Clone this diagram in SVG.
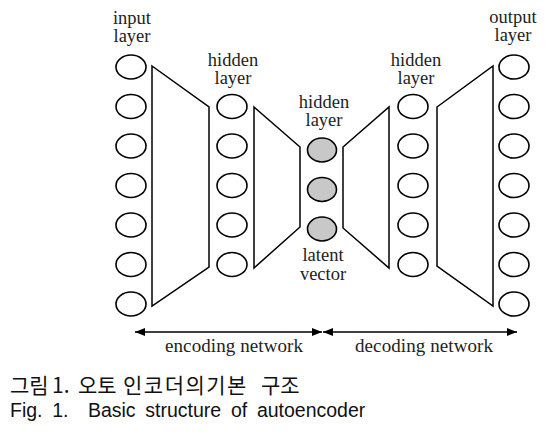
<svg xmlns="http://www.w3.org/2000/svg" width="557" height="436" viewBox="0 0 557 436">
<defs>
<style>
.n{fill:#fff;stroke:#000;stroke-width:1.6}
.l{fill:#c8c8c8;stroke:#000;stroke-width:1.6}
.t{fill:none;stroke:#000;stroke-width:1.5;stroke-linejoin:miter}
.s{font-family:'Liberation Serif','DejaVu Serif',serif;font-size:18.5px;fill:#222;text-anchor:middle}
.c{font-family:'Liberation Sans','Noto Sans CJK KR',sans-serif;font-size:19.5px;fill:#111}
.k{font-family:'Noto Sans CJK KR','Liberation Sans',sans-serif;font-size:21px;fill:#111}
.w{letter-spacing:1.5px}
.b{font-size:19px}
.a{stroke:#000;stroke-width:1.5}
</style>
<marker id="ah" viewBox="0 0 10 8" refX="10" refY="4" markerWidth="10" markerHeight="8" markerUnits="userSpaceOnUse" orient="auto-start-reverse">
<path d="M0,0 L10,4 L0,8 Z" fill="#000"/>
</marker>
</defs>
<rect width="557" height="436" fill="#fff"/>
<g id="input-layer">
<text class="s" x="132" y="24">input<tspan x="132" dy="18">layer</tspan></text>
<ellipse class="n" cx="131" cy="67" rx="15" ry="12"/>
<ellipse class="n" cx="131" cy="106.5" rx="15" ry="12"/>
<ellipse class="n" cx="131" cy="146" rx="15" ry="12"/>
<ellipse class="n" cx="131" cy="185.5" rx="15" ry="12"/>
<ellipse class="n" cx="131" cy="225" rx="15" ry="12"/>
<ellipse class="n" cx="131" cy="264.5" rx="15" ry="12"/>
<ellipse class="n" cx="131" cy="304" rx="15" ry="12"/>
</g>
<g id="hidden-layer-1">
<text class="s" x="233" y="66">hidden<tspan x="233" dy="18">layer</tspan></text>
<ellipse class="n" cx="232" cy="106.5" rx="15" ry="12"/>
<ellipse class="n" cx="232" cy="146" rx="15" ry="12"/>
<ellipse class="n" cx="232" cy="185.5" rx="15" ry="12"/>
<ellipse class="n" cx="232" cy="225" rx="15" ry="12"/>
<ellipse class="n" cx="232" cy="264.5" rx="15" ry="12"/>
</g>
<g id="latent-layer">
<text class="s" x="324" y="108">hidden<tspan x="324" dy="18">layer</tspan></text>
<ellipse class="l" cx="322" cy="150" rx="14.5" ry="12"/>
<ellipse class="l" cx="322" cy="189.5" rx="14.5" ry="12"/>
<ellipse class="l" cx="322" cy="229" rx="14.5" ry="12"/>
<text class="s" x="323" y="261">latent<tspan x="323" dy="19">vector</tspan></text>
</g>
<g id="hidden-layer-2">
<text class="s" x="416" y="66">hidden<tspan x="416" dy="18">layer</tspan></text>
<ellipse class="n" cx="413" cy="106.5" rx="15" ry="12"/>
<ellipse class="n" cx="413" cy="146" rx="15" ry="12"/>
<ellipse class="n" cx="413" cy="185.5" rx="15" ry="12"/>
<ellipse class="n" cx="413" cy="225" rx="15" ry="12"/>
<ellipse class="n" cx="413" cy="264.5" rx="15" ry="12"/>
</g>
<g id="output-layer">
<text class="s" x="513" y="23">output<tspan x="513" dy="18">layer</tspan></text>
<ellipse class="n" cx="514" cy="67" rx="15" ry="12"/>
<ellipse class="n" cx="514" cy="106.5" rx="15" ry="12"/>
<ellipse class="n" cx="514" cy="146" rx="15" ry="12"/>
<ellipse class="n" cx="514" cy="185.5" rx="15" ry="12"/>
<ellipse class="n" cx="514" cy="225" rx="15" ry="12"/>
<ellipse class="n" cx="514" cy="264.5" rx="15" ry="12"/>
<ellipse class="n" cx="514" cy="304" rx="15" ry="12"/>
</g>
<g id="connectors">
<path class="t" d="M152,66 L209,107 L209,267 L152,306 Z"/>
<path class="t" d="M254,107 L300,147 L300,227 L254,268 Z"/>
<path class="t" d="M343,147 L389,107 L389,268 L343,228 Z"/>
<path class="t" d="M437,107 L493,66 L493,306 L437,266 Z"/>
<line class="a" x1="135" y1="332" x2="322" y2="332" marker-start="url(#ah)" marker-end="url(#ah)"/>
<line class="a" x1="323" y1="332" x2="517" y2="332" marker-start="url(#ah)" marker-end="url(#ah)"/>
</g>
<g id="labels">
<text class="s b" x="234" y="352" textLength="138">encoding network</text>
<text class="s b" x="424" y="352" textLength="138">decoding network</text>
</g>
<g id="caption">
<text class="k" y="393"><tspan x="10">그림</tspan> <tspan x="52">1.</tspan> <tspan x="78">오토</tspan> <tspan class="w" x="123">인코더의기본</tspan> <tspan x="261">구조</tspan></text>
<text class="c" x="10" y="417" xml:space="preserve" word-spacing="4.3">Fig. 1.  Basic structure of autoencoder</text>
</g>
</svg>
